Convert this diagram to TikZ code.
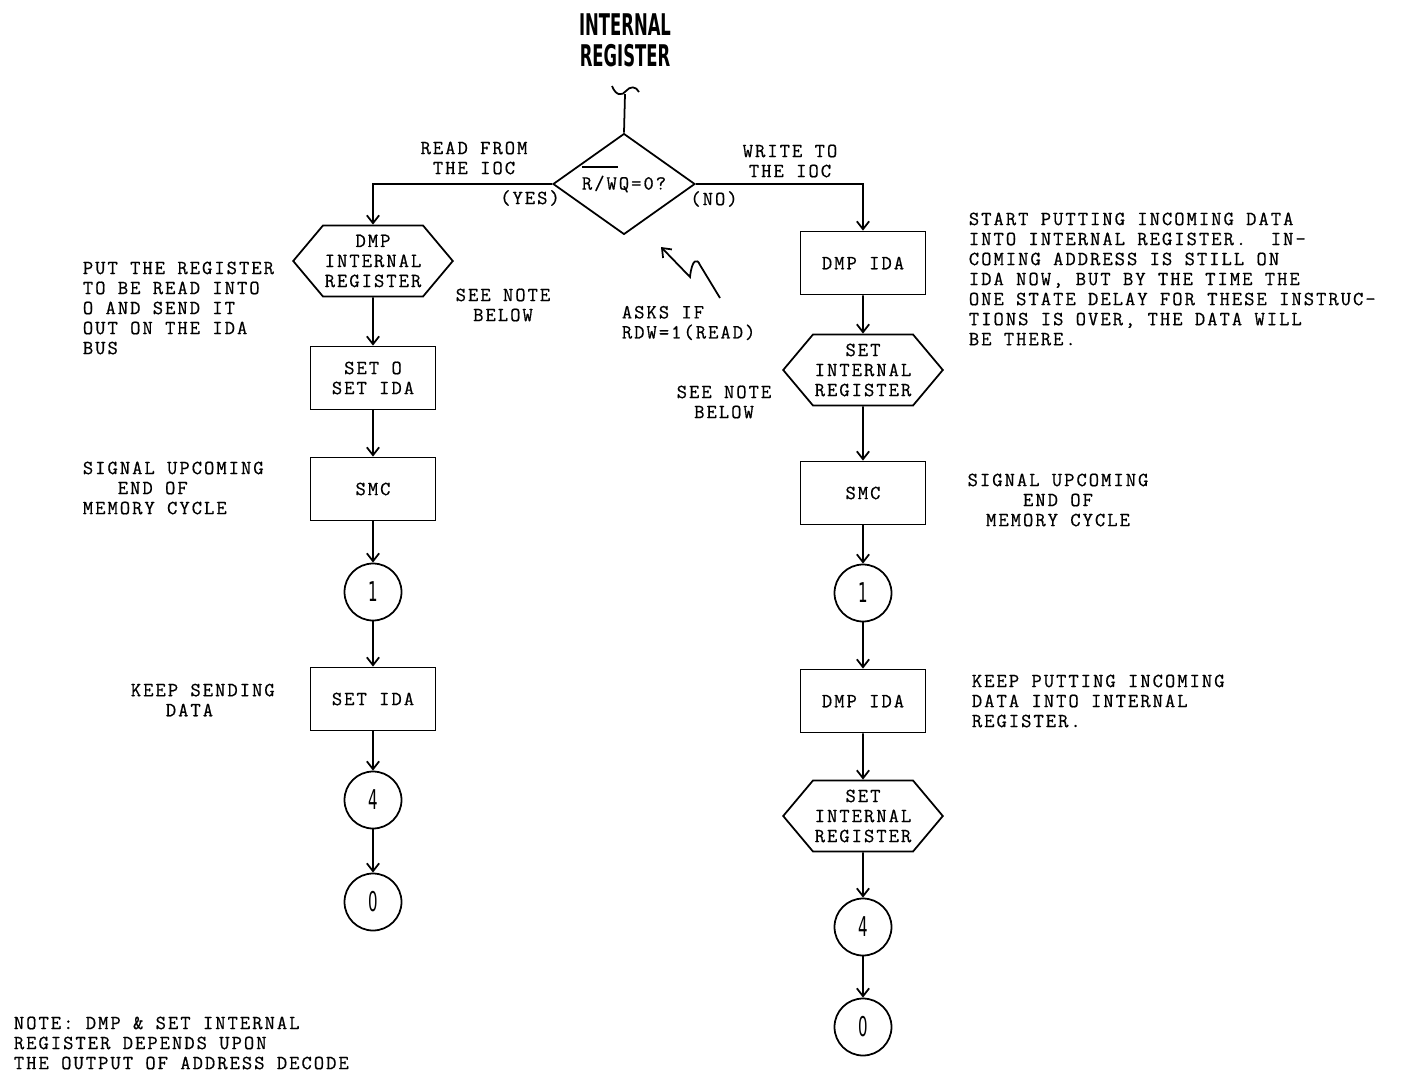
\documentclass[tikz,border=0pt]{standalone}
\usepackage{fontspec}
\setmonofont[LetterSpace=10,FakeBold=0.6]{Latin Modern Mono}
\newfontfamily\stencil[FakeStretch=0.55]{DejaVu Sans}
\usetikzlibrary{arrows.meta,shapes.geometric,shapes.symbols}

\begin{document}
\begin{tikzpicture}[x=0.02cm,y=-0.02cm,line width=1pt,
  every node/.style={font=\ttfamily\fontsize{11.4}{11.4}\selectfont},
  flow/.style={-{Straight Barb[length=4.5pt,width=7pt]}},
  stepbox/.style={draw,minimum width=2.5cm,minimum height=1.26cm,align=center},
  hexbox/.style={draw,signal,signal to=east and west,signal pointer angle=100,
    minimum width=3.04cm,minimum height=1.42cm,inner sep=1pt,align=center},
  conn/.style={draw,circle,minimum size=1.14cm,inner sep=0pt,
    font=\stencil\fontsize{15.5}{15.5}\selectfont},
  remark/.style={align=left,inner sep=0pt,anchor=west}]
  \useasboundingbox (0,0) rectangle (1401,1072);

  % heading and entry
  \node[font=\stencil\bfseries\fontsize{17}{17.6}\selectfont,align=center] (title) at (625,40) {INTERNAL\\REGISTER};
  \coordinate (entry) at (625,94);
  \draw (612,86) .. controls (616,96) and (622,96) .. (626,91)
    .. controls (630,86) and (636,86) .. (639,92);
  \node[draw,diamond,minimum width=2.84cm,minimum height=1.64cm,inner sep=0pt] (test) at (624,184)
    {\smash{\rlap{\rule[1.1em]{1.8em}{0.7pt}}}R/WQ=0?};
  \draw (entry) -- (test.north);

  % read branch
  \node[hexbox] (dmpreg) at (373,261) {DMP\\INTERNAL\\REGISTER};
  \node[stepbox] (setoida) at (373,378) {SET O\\SET IDA};
  \node[stepbox] (smcL) at (373,489) {SMC};
  \node[conn] (oneL) at (373,592) {1};
  \node[stepbox] (setida) at (373,699) {SET IDA};
  \node[conn] (fourL) at (373,800) {4};
  \node[conn] (zeroL) at (373,902) {0};

  % write branch
  \node[stepbox] (dmpidaA) at (863,263) {DMP IDA};
  \node[hexbox] (setregA) at (863,370) {SET\\INTERNAL\\REGISTER};
  \node[stepbox] (smcR) at (863,493) {SMC};
  \node[conn] (oneR) at (863,593) {1};
  \node[stepbox] (dmpidaB) at (863,701) {DMP IDA};
  \node[hexbox] (setregB) at (863,816) {SET\\INTERNAL\\REGISTER};
  \node[conn] (fourR) at (863,927) {4};
  \node[conn] (zeroR) at (863,1027) {0};

  \draw[flow] (test.west) -| (dmpreg.north);
  \draw[flow] (test.east) -| (dmpidaA.north);
  \draw[flow] (dmpreg) -- (setoida);
  \draw[flow] (setoida) -- (smcL);
  \draw[flow] (smcL) -- (oneL);
  \draw[flow] (oneL) -- (setida);
  \draw[flow] (setida) -- (fourL);
  \draw[flow] (fourL) -- (zeroL);
  \draw[flow] (dmpidaA) -- (setregA);
  \draw[flow] (setregA) -- (smcR);
  \draw[flow] (smcR) -- (oneR);
  \draw[flow] (oneR) -- (dmpidaB);
  \draw[flow] (dmpidaB) -- (setregB);
  \draw[flow] (setregB) -- (fourR);
  \draw[flow] (fourR) -- (zeroR);

  % branch labels
  \node[align=center] (readlbl) at (474,158) {READ FROM\\THE IOC};
  \node[align=center] (writelbl) at (790,161) {WRITE TO\\THE IOC};
  \node (yes) at (530,198) {(YES)};
  \node (no) at (714,199) {(NO)};

  % pointer to the test
  \coordinate (asktail) at (720,298);
  \coordinate (asktip) at (661,247);
  \draw[flow] (asktail) -- (700,265) .. controls (697,258) and (692,259) .. (690,277) -- (asktip);
  \node[remark] (asks) at (621,323) {ASKS IF\\RDW=1(READ)};

  % remarks
  \node[remark] (putreg) at (82,308) {PUT THE REGISTER\\TO BE READ INTO\\O AND SEND IT\\OUT ON THE IDA\\BUS};
  \node[align=center] (seeL) at (503,305) {SEE NOTE\\BELOW};
  \node[align=center] (seeR) at (724,402) {SEE NOTE\\BELOW};
  \node[remark] (startput) at (968,279) {START PUTTING INCOMING DATA\\INTO INTERNAL REGISTER.~~IN-\\COMING ADDRESS IS STILL ON\\IDA NOW, BUT BY THE TIME THE\\ONE STATE DELAY FOR THESE INSTRUC-\\TIONS IS OVER, THE DATA WILL\\BE THERE.};
  \node[remark] (sigL) at (82,488) {SIGNAL UPCOMING\\\hphantom{SIG}END OF\\MEMORY CYCLE};
  \node[align=center] (sigR) at (1058,500) {SIGNAL UPCOMING\\END OF\\MEMORY CYCLE};
  \node[remark] (keepsend) at (130,700) {KEEP SENDING\\\hphantom{KEE}DATA};
  \node[remark] (keepput) at (971,701) {KEEP PUTTING INCOMING\\DATA INTO INTERNAL\\REGISTER.};
  \node[remark] (note) at (13,1043) {NOTE: DMP \& SET INTERNAL\\REGISTER DEPENDS UPON\\THE OUTPUT OF ADDRESS DECODE};
\end{tikzpicture}
\end{document}
